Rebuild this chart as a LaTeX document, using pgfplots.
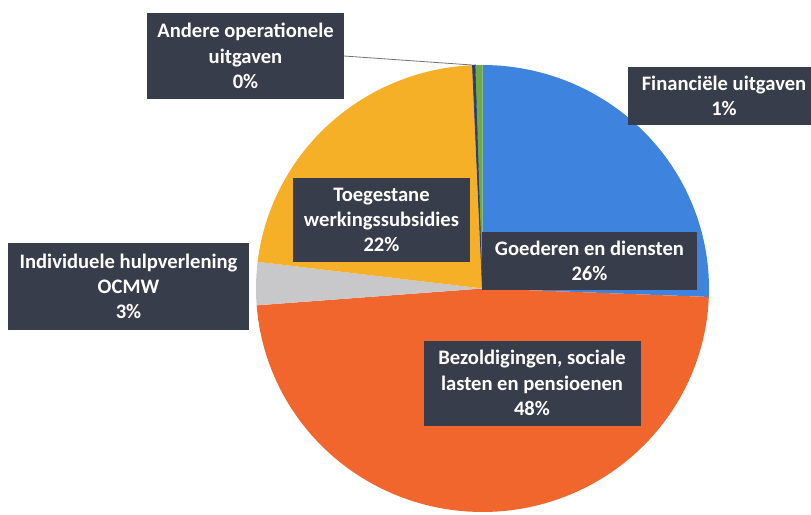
\documentclass[border=0pt]{standalone}
\usepackage{pgfplots}
\pgfplotsset{compat=1.18}
\usepackage{fontspec}
\setmainfont{Carlito}
\definecolor{cBlue}{RGB}{62,132,222}
\definecolor{cOrange}{RGB}{240,102,45}
\definecolor{cGray}{RGB}{200,200,202}
\definecolor{cYellow}{RGB}{246,176,40}
\definecolor{cNavy}{RGB}{40,60,125}
\definecolor{cGreen}{RGB}{112,170,72}
\definecolor{cBox}{RGB}{56,61,76}
\begin{document}
\begin{tikzpicture}
% shares in percent (clockwise from 12 o'clock)
\def\sA{25.6}% Goederen en diensten
\def\sB{48.2}% Bezoldigingen, sociale lasten en pensioenen
\def\sC{3.1}%  Individuele hulpverlening OCMW
\def\sD{22.4}% Toegestane werkingssubsidies
\def\sE{0.2}%  Andere operationele uitgaven
\def\sF{0.5}%  Financiele uitgaven
\pgfmathsetmacro{\eA}{90-3.6*\sA}
\pgfmathsetmacro{\eB}{\eA-3.6*\sB}
\pgfmathsetmacro{\eC}{\eB-3.6*\sC}
\pgfmathsetmacro{\eD}{\eC-3.6*\sD}
\pgfmathsetmacro{\eE}{\eD-3.6*\sE}
\pgfmathsetmacro{\eF}{\eE-3.6*\sF}
\tikzset{box/.style={fill=cBox, text=white, align=center, inner sep=0pt,
  font=\fontsize{10.3}{12.6}\selectfont\bfseries}}
\begin{axis}[scale only axis, width=405.5pt, height=257.5pt,
  xmin=0, xmax=811, ymin=0, ymax=515, y dir=reverse, hide axis, clip=true,
  variable=\t, samples=90]
\addplot[draw=none, fill=cBlue, domain=\eA:90] ({482.5+226.5*cos(\t)},{288.5-223.5*sin(\t)}) -- (axis cs:482.5,288.5) -- cycle;
\addplot[draw=none, fill=cOrange, domain=\eB:\eA] ({482.5+226.5*cos(\t)},{288.5-223.5*sin(\t)}) -- (axis cs:482.5,288.5) -- cycle;
\addplot[draw=none, fill=cGray, domain=\eC:\eB] ({482.5+226.5*cos(\t)},{288.5-223.5*sin(\t)}) -- (axis cs:482.5,288.5) -- cycle;
\addplot[draw=none, fill=cYellow, domain=\eD:\eC] ({482.5+226.5*cos(\t)},{288.5-223.5*sin(\t)}) -- (axis cs:482.5,288.5) -- cycle;
\addplot[draw=cNavy, line width=0.4pt, fill=cNavy, domain=\eE:\eD, samples=5] ({482.5+226.5*cos(\t)},{288.5-223.5*sin(\t)}) -- (axis cs:482.5,288.5) -- cycle;
\addplot[draw=none, fill=cGreen, domain=\eF:\eE, samples=10] ({482.5+226.5*cos(\t)},{288.5-223.5*sin(\t)}) -- (axis cs:482.5,288.5) -- cycle;
\draw[black!55, line width=0.4pt] (axis cs:344,56) -- (axis cs:472,65);
\node[box, minimum width=98.5pt, minimum height=43pt] at (axis cs:245.5,56) {Andere operationele\\uitgaven\\0\%};
\node[box, minimum width=96pt, minimum height=29pt] at (axis cs:724,96) {Financiële uitgaven\\1\%};
\node[box, minimum width=120.5pt, minimum height=43.5pt] at (axis cs:128.5,286.5) {Individuele hulpverlening\\OCMW\\3\%};
\node[box, minimum width=108.5pt, minimum height=42.5pt] at (axis cs:532,383) {Bezoldigingen, sociale\\lasten en pensioenen\\48\%};
\node[box, minimum width=88.5pt, minimum height=42pt] at (axis cs:381.5,220) {Toegestane\\werkingssubsidies\\22\%};
\node[box, minimum width=107.5pt, minimum height=29pt] at (axis cs:589.5,261) {Goederen en diensten\\26\%};
\end{axis}
\pgfresetboundingbox
\path (current axis.south west) rectangle (current axis.north east);
\end{tikzpicture}
\end{document}
